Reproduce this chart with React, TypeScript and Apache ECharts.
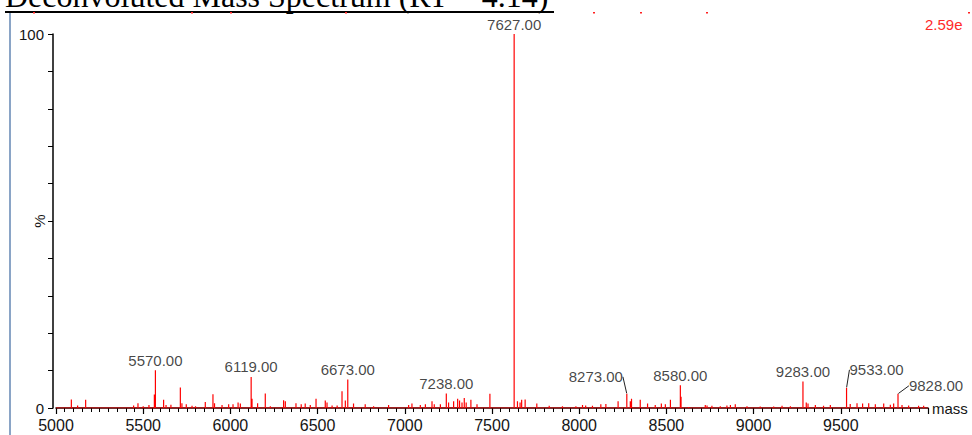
import React, { useEffect, useRef } from "react";
import * as echarts from "echarts";

// ---- data ----
const peakMasses = [
  5088, 5124, 5170, 5445, 5470, 5500, 5533, 5564, 5570, 5617, 5631, 5659, 5713, 5722, 5747, 5780, 5800,
  5856, 5900, 5909, 5952, 5990, 6015, 6044, 6057, 6119, 6124, 6156, 6200, 6229, 6305, 6315, 6376, 6406,
  6429, 6458, 6491, 6544, 6554, 6583, 6612, 6640, 6659, 6673, 6706, 6773, 6821, 6907, 7022, 7041, 7089,
  7118, 7156, 7169, 7204, 7238, 7251, 7280, 7303, 7314, 7328, 7341, 7352, 7379, 7414, 7488, 7627, 7646,
  7661, 7670, 7690, 7757, 7828, 7904, 7981, 8019, 8037, 8076, 8124, 8153, 8223, 8273, 8293, 8300, 8350,
  8392, 8436, 8471, 8494, 8523, 8580, 8584, 8627, 8723, 8733, 8761, 8809, 8847, 8867, 8895, 8962, 9038,
  9115, 9163, 9211, 9283, 9302, 9312, 9354, 9401, 9440, 9533, 9554, 9593, 9625, 9660, 9698, 9746, 9784,
  9803, 9828, 9851, 9889, 9946, 9975,
];
const peakIntensities = [
  2.3, 0.7, 2.2, 0.7, 1.3, 0.5, 0.8, 3.6, 10.1, 2.2, 0.8, 0.9, 5.5, 1.3, 1.0, 0.6, 0.5,
  1.6, 3.7, 1.3, 0.8, 1.0, 1.0, 1.5, 1.2, 8.3, 2.5, 1.3, 3.9, 0.5, 2.1, 1.8, 1.3, 1.0,
  1.2, 0.8, 2.5, 2.0, 1.5, 0.7, 0.7, 4.5, 2.0, 7.6, 1.2, 1.0, 0.5, 0.8, 0.8, 1.2, 0.8,
  1.0, 1.8, 1.0, 1.0, 3.9, 1.5, 1.8, 2.5, 2.0, 1.5, 2.7, 1.5, 2.2, 1.0, 3.8, 100, 1.8,
  1.5, 2.2, 2.3, 1.2, 0.6, 0.5, 0.5, 0.8, 0.7, 0.6, 1.0, 1.1, 1.8, 3.8, 1.8, 2.5, 2.2,
  1.2, 0.8, 1.2, 1.0, 2.2, 6.1, 3.0, 0.3, 0.8, 0.7, 0.6, 0.5, 0.7, 0.8, 1.0, 0.5, 0.4,
  0.4, 0.6, 0.5, 7.1, 1.5, 1.2, 0.8, 0.6, 0.8, 5.4, 1.1, 1.3, 1.2, 1.3, 1.0, 1.2, 0.9,
  1.2, 3.8, 0.8, 0.7, 0.6, 0.6,
];
const labeledMasses = [5570, 6119, 6673, 7238, 7627, 8273, 8580, 9283, 9533, 9828];
const xMin = 5000;
const xMax = 10000;
const xInterval = 500;
const yTicks = [0, 100];

// label shifts (styling only) for the labels drawn with a leader line
const labelShift: Record<number, [number, number]> = {
  8273: [-31, -7],
  9533: [30, -8],
  9828: [38, 2],
};
// small red clipped marks along the top edge (decoration)
const topMarksX = [33, 191, 230, 345, 593, 640, 706, 968];

export default function App() {
  const ref = useRef<HTMLDivElement>(null);
  useEffect(() => {
    document.body.style.margin = "0";
    if (!ref.current) return;
    const chart = echarts.init(ref.current, undefined, { renderer: "svg" });

    const spectrum: number[][] = [[xMin, 0]];
    peakMasses.forEach((m, i) => {
      spectrum.push([m, 0], [m, peakIntensities[i]], [m, 0]);
    });
    spectrum.push([xMax, 0]);

    const labelData = labeledMasses.map((m) => {
      const idx = peakMasses.indexOf(m);
      const item: any = { value: [m, peakIntensities[idx]] };
      if (labelShift[m]) {
        item.labelLine = { show: true, lineStyle: { color: "#222", width: 1 } };
      }
      return item;
    });

    const font = "Liberation Sans, Arial, sans-serif";
    const txt = "#151515";

    chart.setOption({
      animation: false,
      grid: {
        left: 56,
        right: 44,
        top: 34,
        bottom: 27,
        containLabel: false,
        outerBoundsMode: "none",
      },
      xAxis: {
        type: "value",
        min: xMin,
        max: xMax,
        interval: xInterval,
        offset: 1,
        name: "mass",
        nameLocation: "end",
        nameGap: 4,
        nameMoveOverlap: false,
        nameTextStyle: { fontSize: 15, color: txt, fontFamily: font },
        axisLine: { show: true, lineStyle: { color: "#000", width: 1.5 } },
        axisTick: { show: true, length: 6, lineStyle: { color: "#000", width: 1.2 } },
        minorTick: { show: true, splitNumber: 10, length: 4, lineStyle: { color: "#000", width: 1 } },
        axisLabel: {
          fontSize: 16,
          color: txt,
          fontFamily: font,
          margin: 8,
          showMaxLabel: false,
          formatter: (v: number) => (v >= xMax ? "" : String(v)),
        },
        splitLine: { show: false },
      },
      yAxis: {
        type: "value",
        min: 0,
        max: 100,
        interval: 10,
        offset: 3,
        name: "%",
        nameLocation: "middle",
        nameRotate: 90,
        nameGap: 6,
        nameMoveOverlap: false,
        nameTextStyle: { fontSize: 15, color: txt, fontFamily: font },
        axisLine: { show: true, lineStyle: { color: "#000", width: 1.5 } },
        axisTick: { show: true, length: 5, lineStyle: { color: "#000", width: 1 } },
        axisLabel: {
          fontSize: 15,
          color: txt,
          fontFamily: font,
          margin: 9,
          formatter: (v: number) => (yTicks.includes(v) ? String(v) : ""),
        },
        splitLine: { show: false },
      },
      series: [
        {
          type: "line",
          data: spectrum,
          showSymbol: false,
          symbol: "none",
          lineStyle: { color: "#ff0000", width: 1.2 },
          z: 3,
        },
        {
          type: "scatter",
          data: labelData,
          symbolSize: 1,
          itemStyle: { color: "rgba(0,0,0,0)" },
          z: 4,
          label: {
            show: true,
            position: "top",
            distance: 2,
            fontSize: 15,
            color: txt,
            fontFamily: font,
            formatter: (p: any) => p.value[0].toFixed(2),
          },
          labelLayout: (params: any) => {
            const m = labeledMasses[params.dataIndex];
            const s = labelShift[m];
            return s ? { dx: s[0], dy: s[1] } : {};
          },
        },
      ],
      graphic: [
        {
          type: "rect",
          shape: { x: 9, y: 12, width: 2, height: 430 },
          style: { fill: "#8aa4c6" },
          silent: true,
        },
        {
          type: "text",
          x: 5,
          y: 12,
          style: {
            text: "Deconvoluted Mass Spectrum (RT = 4.14)",
            fontFamily: "Liberation Serif, Times New Roman, serif",
            fontSize: 32,
            fill: "#000",
            verticalAlign: "bottom",
            align: "left",
          },
          silent: true,
        },
        {
          type: "rect",
          shape: { x: 5, y: 11, width: 549, height: 2 },
          style: { fill: "#000" },
          silent: true,
        },
        ...topMarksX.map((x) => ({
          type: "rect",
          shape: { x, y: 12, width: 2, height: 1.5 },
          style: { fill: "#ff2020" },
          silent: true,
        })),
        {
          type: "text",
          x: 925,
          y: 24,
          style: {
            text: "2.59e",
            fontFamily: font,
            fontSize: 15,
            fill: "#ff2a2a",
            verticalAlign: "middle",
            align: "left",
          },
          silent: true,
        },
      ],
    });
    return () => chart.dispose();
  }, []);
  return <div ref={ref} style={{ width: 972, height: 435 }} />;
}
